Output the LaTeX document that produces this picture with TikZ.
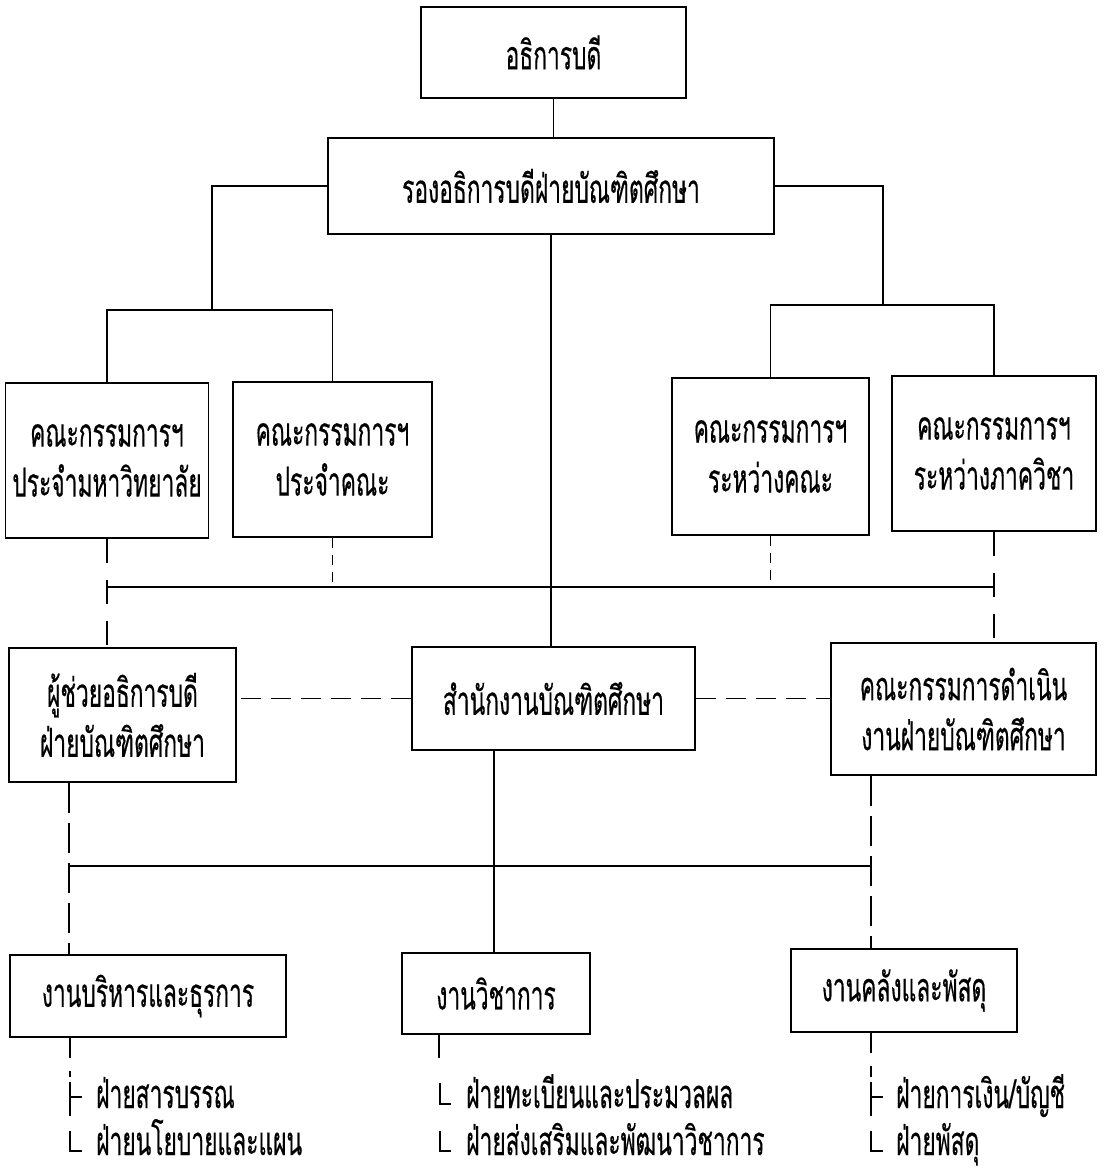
\documentclass[tikz,border=0pt]{standalone}
\usepackage{fontspec}
\newfontfamily\thaifont[Script=Thai,FakeStretch=0.57,FakeBold=0.35]{Loma}
\usetikzlibrary{calc}
\begin{document}
\begin{tikzpicture}[x=1pt,y=-1pt,
  box/.style={draw, line width=1.6pt, inner sep=0pt, align=center,
    font=\thaifont\fontsize{40}{50}\selectfont},
  conn/.style={line width=1.5pt},
  ldash/.style={conn, dash pattern=on 24pt off 17pt},
  mdash/.style={conn, dash pattern=on 30pt off 10pt},
  sdash/.style={conn, dash pattern=on 10pt off 7pt},
  hdash/.style={conn, dash pattern=on 20pt off 10pt},
  item/.style={anchor=base west, inner sep=0pt, text depth=2pt,
    font=\thaifont\fontsize{40}{50}\selectfont}]
\useasboundingbox[fill=white] (0,0) rectangle (1112,1176);

% boxes
\node[box, minimum width=265pt, minimum height=91pt] (T) at (553.5,52.5) {อธิการบดี};
\node[box, minimum width=446pt, minimum height=96pt] (V) at (551,186) {รองอธิการบดีฝ่ายบัณฑิตศึกษา};
\node[box, minimum width=203pt, minimum height=155pt] (A) at (107,460.5) {คณะกรรมการฯ\\ประจำมหาวิทยาลัย};
\node[box, minimum width=199pt, minimum height=155pt] (B) at (332.5,459.5) {คณะกรรมการฯ\\ประจำคณะ};
\node[box, minimum width=197pt, minimum height=157pt] (C) at (770.5,456.5) {คณะกรรมการฯ\\ระหว่างคณะ};
\node[box, minimum width=204pt, minimum height=155pt] (D) at (994,453.5) {คณะกรรมการฯ\\ระหว่างภาควิชา};
\node[box, minimum width=227pt, minimum height=134pt] (E) at (122.5,715) {ผู้ช่วยอธิการบดี\\ฝ่ายบัณฑิตศึกษา};
\node[box, minimum width=283pt, minimum height=103pt] (S) at (553.5,698.5) {สำนักงานบัณฑิตศึกษา};
\node[box, minimum width=265pt, minimum height=132pt] (F) at (963.5,709) {คณะกรรมการดำเนิน\\งานฝ่ายบัณฑิตศึกษา};
\node[box, minimum width=276pt, minimum height=82pt] (G) at (148,996) {งานบริหารและธุรการ};
\node[box, minimum width=188pt, minimum height=81pt] (H) at (496,993.5) {งานวิชาการ};
\node[box, minimum width=226pt, minimum height=83pt] (K) at (904,990.5) {งานคลังและพัสดุ};

% helper coordinates
\coordinate (lj) at (212,310);
\coordinate (rj) at (883,305);
\coordinate (bus1) at (0,587);
\coordinate (bus2) at (0,866);
\coordinate (ex) at (69,0);
\coordinate (sx) at (494,0);
\coordinate (fx) at (871,0);

% top
\draw[conn] (T.south) -- (T.south |- V.north);
\draw[conn] (V.west) -| (lj);
\draw[conn] (A.north) |- (lj) -| (B.north);
\draw[conn] (V.east) -| (rj);
\draw[conn] (C.north) |- (rj) -| (D.north);
\draw[conn] (V.south) -- (V.south |- S.north);

% middle bus
\draw[conn] (A.south |- bus1) -- (D.south |- bus1);
\draw[ldash] (A.south) -- (A.south |- E.north);
\draw[sdash] (B.south) -- (B.south |- bus1);
\draw[sdash] (C.south) -- (C.south |- bus1);
\draw[ldash] (D.south) -- (D.south |- F.north);

% third row links
\draw[hdash] (S.west) -- (S.west -| E.east);
\draw[hdash] (S.east) -- (S.east -| F.west);

% lower bus
\draw[conn] (ex |- bus2) -- (fx |- bus2);
\draw[mdash] (E.south -| ex) -- (G.north -| ex);
\draw[conn] (S.south -| sx) -- (H.north -| sx);
\draw[mdash] (F.south -| fx) -- (K.north -| fx);

% sub items: G
\coordinate (g1) at (70,1077);
\coordinate (g2) at (70,1082);
\coordinate (g3) at (70,1116);
\coordinate (g4) at (70,1097);
\coordinate (g5) at (82,1097);
\coordinate (g6) at (70,1131);
\coordinate (g7) at (70,1151);
\coordinate (g8) at (82,1151);
\draw[conn, dash pattern=on 20pt off 13pt] (G.south -| g1) -- (g1);
\draw[conn] (g2) -- (g3);
\draw[conn] (g4) -- (g5);
\draw[conn] (g6) -- (g7) -- (g8);
\node[item] (g1t) at (96,1108) {ฝ่ายสารบรรณ};
\node[item] (g2t) at (96,1155) {ฝ่ายนโยบายและแผน};

% sub items: H
\coordinate (h1) at (439,1058);
\coordinate (h2) at (440,1083);
\coordinate (h3) at (440,1104);
\coordinate (h4) at (451,1104);
\coordinate (h5) at (440,1131);
\coordinate (h6) at (440,1151);
\coordinate (h7) at (451,1151);
\draw[conn] (H.south -| h1) -- (h1);
\draw[conn] (h2) -- (h3) -- (h4);
\draw[conn] (h5) -- (h6) -- (h7);
\node[item] (h1t) at (466,1108) {ฝ่ายทะเบียนและประมวลผล};
\node[item] (h2t) at (466,1155) {ฝ่ายส่งเสริมและพัฒนาวิชาการ};

% sub items: K
\coordinate (k1) at (871,1077);
\coordinate (k2) at (871,1082);
\coordinate (k3) at (871,1116);
\coordinate (k4) at (871,1097);
\coordinate (k5) at (883,1097);
\coordinate (k6) at (871,1131);
\coordinate (k7) at (871,1151);
\coordinate (k8) at (883,1151);
\draw[conn, dash pattern=on 20pt off 13pt] (K.south -| k1) -- (k1);
\draw[conn] (k2) -- (k3);
\draw[conn] (k4) -- (k5);
\draw[conn] (k6) -- (k7) -- (k8);
\node[item] (k1t) at (896,1108) {ฝ่ายการเงิน/บัญชี};
\node[item] (k2t) at (896,1155) {ฝ่ายพัสดุ};
\end{tikzpicture}
\end{document}
